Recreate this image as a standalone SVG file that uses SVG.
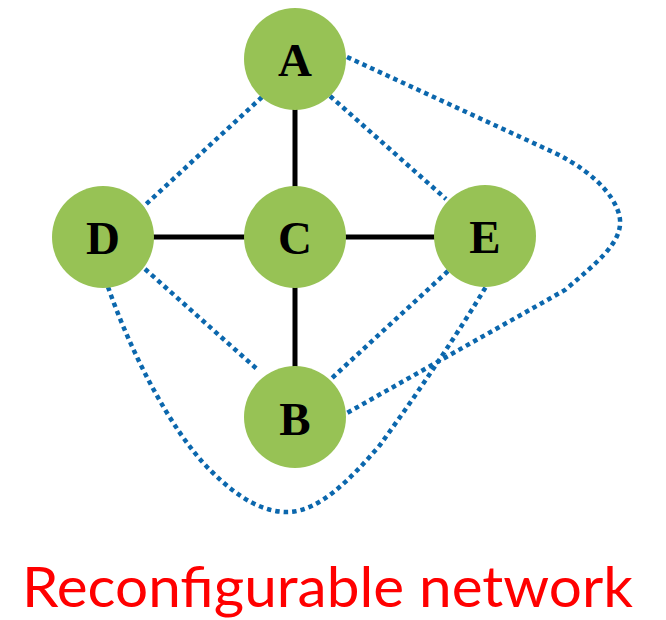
<svg xmlns="http://www.w3.org/2000/svg" width="666" height="620" viewBox="0 0 666 620">
  <style>
    .node circle { fill: #97c255; }
    .node text { font-family: "Liberation Serif", "Times New Roman", serif; font-weight: bold; font-size: 47px; fill: #000; text-anchor: middle; }
    .solid { stroke: #000; stroke-width: 5; fill: none; }
    .dotted { stroke: #0b67ad; stroke-width: 4.5; stroke-dasharray: 4.5 4; fill: none; }
    .caption { font-family: "Lato", "Open Sans", "Liberation Sans", sans-serif; font-size: 56px; fill: #ff0000; }
  </style>
  <rect width="666" height="620" fill="#fff"/>

  <g id="connectors">
    <!-- fixed links -->
    <line class="solid" x1="295" y1="108" x2="295" y2="188"/>
    <line class="solid" x1="295" y1="286" x2="295" y2="368"/>
    <line class="solid" x1="152" y1="237" x2="246" y2="237"/>
    <line class="solid" x1="344" y1="237" x2="436" y2="237"/>
    <!-- reconfigurable links -->
    <line class="dotted" x1="262" y1="97" x2="143" y2="207"/>
    <line class="dotted" x1="330" y1="96" x2="446" y2="199"/>
    <line class="dotted" x1="145" y1="269" x2="258" y2="370"/>
    <line class="dotted" x1="448" y1="271" x2="332" y2="378"/>
    <path class="dotted" d="M347,57 L555,153 C600,175 622,205 620,225 C618,245 598,262 565,290 L347,413"/>
    <path class="dotted" d="M108,287 C130,350 170,430 210,470 C240,500 265,513 290,512 C320,510 350,480 380,445 C420,390 460,330 487,285"/>
  </g>

  <g id="node-A" class="node">
    <circle cx="295" cy="59" r="51"/>
    <text x="295" y="76">A</text>
  </g>
  <g id="node-C" class="node">
    <circle cx="295" cy="237" r="51"/>
    <text x="295" y="254">C</text>
  </g>
  <g id="node-D" class="node">
    <circle cx="103" cy="237" r="51"/>
    <text x="103" y="254">D</text>
  </g>
  <g id="node-E" class="node">
    <circle cx="485" cy="236" r="51"/>
    <text x="485" y="253">E</text>
  </g>
  <g id="node-B" class="node">
    <circle cx="295" cy="417" r="51"/>
    <text x="295" y="435">B</text>
  </g>

  <text class="caption" x="22" y="607" textLength="611" lengthAdjust="spacingAndGlyphs">Reconfigurable network</text>
</svg>
